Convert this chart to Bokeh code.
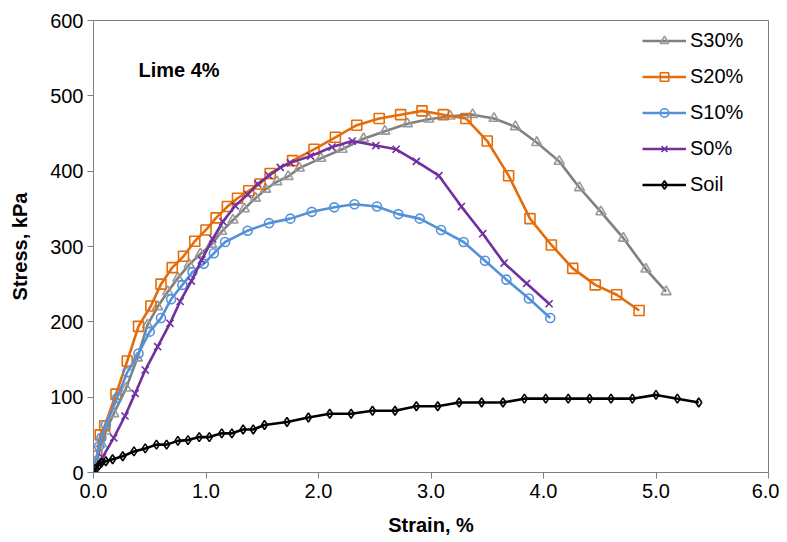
from bokeh.plotting import figure
from bokeh.models import Label, Legend, LegendItem, NumeralTickFormatter, FixedTicker
from bokeh.embed import file_html
from bokeh.resources import INLINE

# ---- data (strain %, stress kPa) ----
s30_x = [0, 0.03, 0.07, 0.11, 0.18, 0.29, 0.39, 0.48, 0.57, 0.66, 0.75, 0.85, 0.95, 1.05, 1.14, 1.24,
         1.34, 1.44, 1.53, 1.63, 1.73, 1.83, 2.02, 2.21, 2.40, 2.59, 2.79, 2.98, 3.17, 3.37, 3.56,
         3.75, 3.94, 4.14, 4.32, 4.51, 4.71, 4.91, 5.09]
s30_y = [0, 15, 38, 55, 78, 112, 152, 196, 220, 240, 258, 276, 290, 303, 320, 335,
         350, 364, 376, 386, 393, 404, 417, 429, 443, 453, 463, 469, 473, 475, 470,
         459, 438, 413, 378, 346, 311, 270, 240]

s20_x = [0, 0.03, 0.06, 0.10, 0.20, 0.30, 0.40, 0.51, 0.60, 0.70, 0.80, 0.90, 1.00, 1.09, 1.19,
         1.28, 1.38, 1.48, 1.57, 1.77, 1.96, 2.15, 2.34, 2.54, 2.73, 2.92, 3.11, 3.31, 3.50,
         3.69, 3.88, 4.07, 4.26, 4.46, 4.65, 4.85]
s20_y = [0, 22, 50, 62, 104, 148, 194, 221, 250, 272, 287, 307, 322, 338, 353,
         364, 374, 383, 397, 414, 429, 445, 461, 470, 475, 480, 475, 470, 440,
         394, 337, 302, 271, 249, 236, 215]

s10_x = [0, 0.02, 0.05, 0.07, 0.11, 0.21, 0.30, 0.40, 0.50, 0.60, 0.69, 0.79, 0.88, 0.98, 1.07,
         1.17, 1.37, 1.56, 1.75, 1.94, 2.14, 2.32, 2.52, 2.71, 2.90, 3.09, 3.29, 3.48, 3.67,
         3.87, 4.06]
s10_y = [0, 15, 35, 46, 63, 99, 133, 158, 187, 205, 230, 249, 266, 277, 291,
         306, 321, 331, 337, 346, 352, 356, 353, 343, 337, 322, 306, 281, 256,
         231, 205]

s0_x = [0, 0.08, 0.18, 0.28, 0.37, 0.46, 0.57, 0.68, 0.77, 0.87, 0.96, 1.06, 1.15, 1.26, 1.37,
        1.46, 1.56, 1.66, 1.75, 1.93, 2.12, 2.30, 2.51, 2.69, 2.87, 3.07, 3.27, 3.46, 3.65,
        3.85, 4.05]
s0_y = [0, 20, 46, 75, 105, 136, 167, 198, 227, 254, 282, 310, 333, 354, 369,
        383, 394, 405, 411, 420, 432, 440, 434, 429, 413, 394, 353, 317, 278,
        251, 224]

soil_x = [0, 0.02, 0.05, 0.07, 0.11, 0.17, 0.26, 0.36, 0.46, 0.56, 0.65, 0.75, 0.84, 0.94, 1.03,
          1.14, 1.23, 1.33, 1.42, 1.52, 1.72, 1.91, 2.10, 2.29, 2.48, 2.68, 2.87, 3.06, 3.25,
          3.45, 3.64, 3.83, 4.02, 4.22, 4.41, 4.60, 4.79, 5.00, 5.19, 5.38]
soil_y = [0, 5, 10, 13, 15, 17.5, 21.5, 28, 32, 37, 37, 42, 43, 47, 47,
          52, 52, 57, 57, 63, 67, 73, 78, 78, 82, 82, 88, 88, 93,
          93, 93, 98, 98, 98, 98, 98, 98, 103, 98, 93]

x_ticks = [0, 1, 2, 3, 4, 5, 6]
y_ticks = [0, 100, 200, 300, 400, 500, 600]

FONT = "Liberation Sans"

p = figure(width=779, height=538, x_range=(0, 6), y_range=(0, 600),
           output_backend="svg", toolbar_location=None,
           min_border_left=93, min_border_right=11, min_border_top=20, min_border_bottom=63)

p.xgrid.visible = False
p.ygrid.visible = False
p.outline_line_color = "#7f7f7f"
p.outline_line_width = 1
p.background_fill_color = "white"
p.border_fill_color = "white"

for ax in (p.xaxis[0], p.yaxis[0]):
    ax.axis_line_color = "#7f7f7f"
    ax.major_tick_line_color = "#7f7f7f"
    ax.major_tick_out = 6
    ax.major_tick_in = 0
    ax.minor_tick_line_color = None
    ax.major_label_text_font = FONT
    ax.major_label_text_font_size = "20px"
    ax.major_label_text_color = "black"
    ax.axis_label_text_font = FONT
    ax.axis_label_text_font_size = "20px"
    ax.axis_label_text_font_style = "bold"
    ax.axis_label_text_color = "black"

p.xaxis.ticker = FixedTicker(ticks=x_ticks)
p.yaxis.ticker = FixedTicker(ticks=y_ticks)
p.xaxis.formatter = NumeralTickFormatter(format="0.0")
p.xaxis.axis_label = "Strain, %"
p.yaxis.axis_label = "Stress, kPa"
p.xaxis.major_label_standoff = 5
p.yaxis.major_label_standoff = 4
p.xaxis.axis_label_standoff = 13
p.yaxis.axis_label_standoff = 16

series = [
    ("S30%", s30_x, s30_y, "#808080", "triangle", 10, "#9a9a9a"),
    ("S20%", s20_x, s20_y, "#E46C0A", "square", 10, "#E46C0A"),
    ("S10%", s10_x, s10_y, "#5591D8", "circle", 9, "#5591D8"),
    ("S0%", s0_x, s0_y, "#7030A0", "x", 10, "#7030A0"),
    ("Soil", soil_x, soil_y, "#000000", "diamond", 9, "#000000"),
]

items = []
for name, xs, ys, col, marker, size, mcol in series:
    r1 = p.line(xs, ys, line_color=col, line_width=2.6)
    r2 = p.scatter(xs, ys, marker=marker, size=size, line_color=mcol,
                   fill_color=None, line_width=1.6)
    items.append(LegendItem(label=name, renderers=[r1, r2]))

legend = Legend(items=items, location=(549, 276), border_line_color=None,
                background_fill_alpha=0, padding=0, margin=0, spacing=13,
                glyph_width=44, glyph_height=21, label_standoff=4,
                label_text_font=FONT, label_text_font_size="20px",
                label_text_color="black", label_height=21)
p.add_layout(legend)

p.add_layout(Label(x=0.4, y=534, text="Lime 4%", text_font=FONT, text_font_size="20px",
                   text_font_style="bold", text_baseline="middle", text_color="black"))

open("out.html", "w").write(file_html(p, INLINE))
